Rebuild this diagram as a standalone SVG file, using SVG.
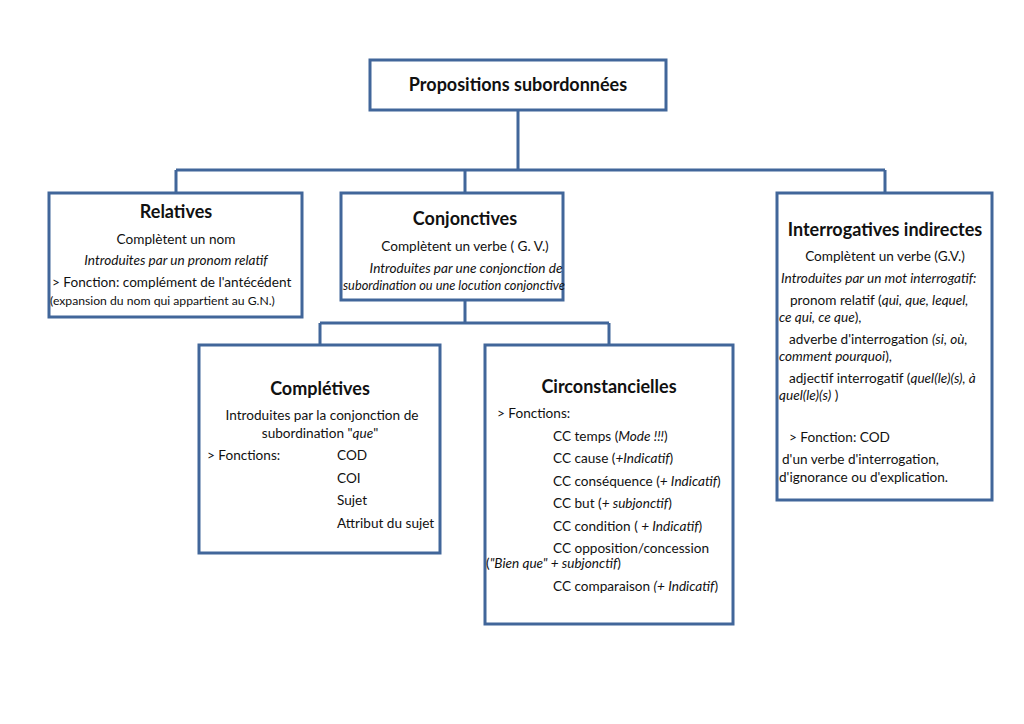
<svg xmlns="http://www.w3.org/2000/svg" width="1024" height="724" viewBox="0 0 1024 724">
<style>
text{font-family:Lato,"Open Sans","Liberation Sans",sans-serif;fill:#111;font-size:13.6px}
.box{fill:#fff;stroke:#41669a;stroke-width:3}
.ln{stroke:#41669a;stroke-width:3;fill:none}
.t{font-weight:bold;font-size:18px}
.c{text-anchor:middle}
.i{font-style:italic}
</style>
<rect width="1024" height="724" fill="#fff"/>
<g id="connectors">
<path class="ln" d="M518 110V170M176 170H885M176 170V193M465 170V193M885 170V193"/>
<path class="ln" d="M465 300V323M320 323H609M320 323V345M609 323V345"/>
</g>
<g id="root">
<rect class="box" x="370" y="60" width="296" height="50"/>
<text class="t c" x="518" y="91">Propositions subordonnées</text>
</g>
<g id="relatives">
<rect class="box" x="49" y="193" width="253" height="124"/>
<text class="t c" x="176" y="218">Relatives</text>
<text class="c" x="176" y="244">Complètent un nom</text>
<text class="c i" x="176" y="265">Introduites par un pronom relatif</text>
<text x="52" y="287">&gt; Fonction: complément de l'antécédent</text>
<text x="50" y="305" style="font-size:12.2px">(expansion du nom qui appartient au G.N.)</text>
</g>
<g id="conjonctives">
<rect class="box" x="341" y="193" width="222" height="107"/>
<text class="t c" x="465" y="225">Conjonctives</text>
<text class="c" x="465" y="251">Complètent un verbe ( G. V.)</text>
<text class="c i" x="466" y="273">Introduites par une conjonction de</text>
<text class="i" x="343" y="290" style="font-size:12.8px">subordination ou une locution conjonctive</text>
</g>
<g id="interrogatives">
<rect class="box" x="777" y="193" width="215" height="307"/>
<text class="t c" x="885" y="236">Interrogatives indirectes</text>
<text class="c" x="885" y="261">Complètent un verbe (G.V.)</text>
<text class="i" x="781" y="283">Introduites par un mot interrogatif:</text>
<text x="790" y="305">pronom relatif (<tspan class="i">qui, que, lequel,</tspan></text>
<text x="779" y="322"><tspan class="i">ce qui, ce que</tspan>),</text>
<text x="789" y="344">adverbe d'interrogation <tspan class="i">(si, où,</tspan></text>
<text x="779" y="361"><tspan class="i">comment pourquoi</tspan>),</text>
<text x="789" y="383">adjectif interrogatif (<tspan class="i">quel(le)(s), à</tspan></text>
<text x="779" y="400"><tspan class="i">quel(le)(s)</tspan> )</text>
<text x="789" y="442">&gt; Fonction: COD</text>
<text x="782" y="464">d'un verbe d'interrogation,</text>
<text x="779" y="482">d'ignorance ou d'explication.</text>
</g>
<g id="completives">
<rect class="box" x="199" y="345" width="241" height="208"/>
<text class="t c" x="320" y="395">Complétives</text>
<text class="c" x="322" y="420">Introduites par la conjonction de</text>
<text class="c" x="320" y="438">subordination "<tspan class="i">que</tspan>"</text>
<text x="207" y="460">&gt; Fonctions:</text>
<text x="337" y="460">COD</text>
<text x="337" y="483">COI</text>
<text x="337" y="505">Sujet</text>
<text x="337" y="528">Attribut du sujet</text>
</g>
<g id="circonstancielles">
<rect class="box" x="485" y="345" width="248" height="279"/>
<text class="t c" x="609" y="393">Circonstancielles</text>
<text x="497" y="418">&gt; Fonctions:</text>
<text x="553" y="441">CC temps (<tspan class="i">Mode !!!</tspan>)</text>
<text x="553" y="463">CC cause (<tspan class="i">+Indicatif</tspan>)</text>
<text x="553" y="486">CC conséquence (<tspan class="i">+ Indicatif</tspan>)</text>
<text x="553" y="508">CC but (<tspan class="i">+ subjonctif</tspan>)</text>
<text x="553" y="531">CC condition ( <tspan class="i">+ Indicatif</tspan>)</text>
<text x="553" y="553">CC opposition/concession</text>
<text x="486" y="568">(<tspan class="i">"Bien que" + subjonctif</tspan>)</text>
<text x="553" y="591">CC comparaison <tspan class="i">(+ Indicatif</tspan>)</text>
</g>
</svg>
